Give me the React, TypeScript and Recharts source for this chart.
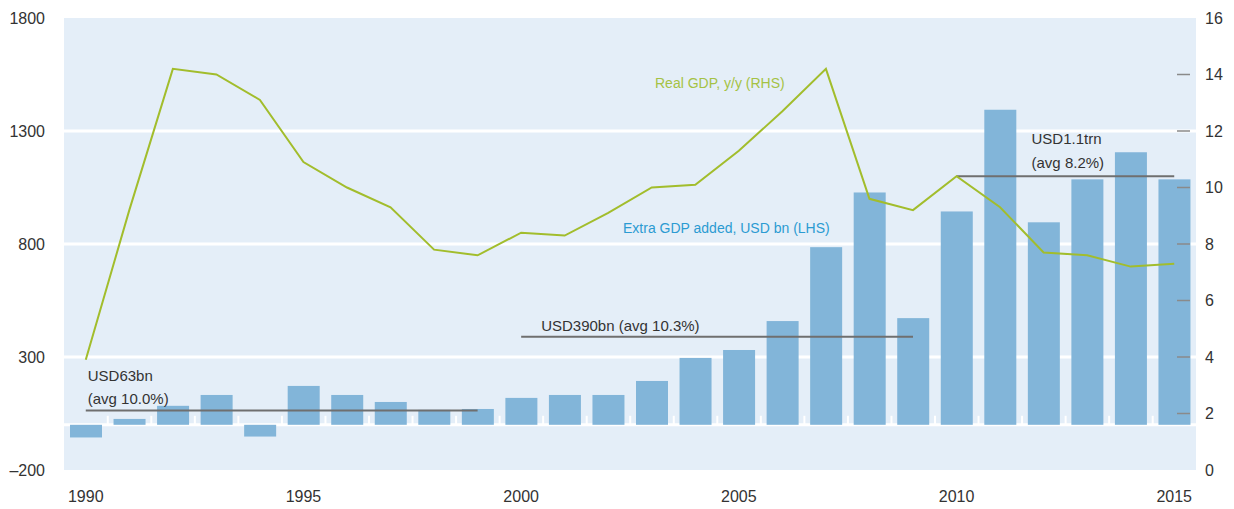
import React from "react";
import {
  Bar,
  CartesianGrid,
  ComposedChart,
  Line,
  ReferenceLine,
  XAxis,
  YAxis,
} from "recharts";

// Years on the category axis
const years = [
  "1990", "1991", "1992", "1993", "1994", "1995", "1996", "1997", "1998", "1999",
  "2000", "2001", "2002", "2003", "2004", "2005", "2006", "2007", "2008", "2009",
  "2010", "2011", "2012", "2013", "2014", "2015",
];

// Extra GDP added, USD bn (LHS)
const extraGdp = [
  -56, 26, 84, 132, -52, 172, 132, 101, 66, 70,
  119, 132, 132, 194, 296, 331, 459, 786, 1028, 472,
  944, 1394, 896, 1086, 1206, 1086,
];

// Real GDP, y/y % (RHS)
const realGdp = [
  3.9, 9.2, 14.2, 14.0, 13.1, 10.9, 10.0, 9.3, 7.8, 7.6,
  8.4, 8.3, 9.1, 10.0, 10.1, 11.3, 12.7, 14.2, 9.6, 9.2,
  10.4, 9.3, 7.7, 7.6, 7.2, 7.3,
];

const leftTicks = [-200, 300, 800, 1300, 1800];
const rightTicks = [0, 2, 4, 6, 8, 10, 12, 14, 16];

// period averages drawn as segments
const periods = [
  { from: "1990", to: "1999", level: 63, lines: ["USD63bn", "(avg 10.0%)"] },
  { from: "2000", to: "2009", level: 390, lines: ["USD390bn (avg 10.3%)"] },
  { from: "2010", to: "2015", level: 1100, lines: ["USD1.1trn", "(avg 8.2%)"] },
];

const data = years.map((year, i) => ({
  year,
  added: extraGdp[i],
  growth: realGdp[i],
}));

const W = 1234;
const H = 509;
const LEFT_W = 64;
const RIGHT_W = 38;
const BAND = (W - LEFT_W - RIGHT_W) / years.length;

const FONT = "'Liberation Sans', Arial, sans-serif";
const BG = "#e4eef8";
const BAR = "#82b5d9";
const GREEN = "#a2bd2c";
const TEXT = "#333333";
const NOTE = "#6f6f6f";

function BarShape(props: any) {
  const { x, y, width, height, index, payload } = props;
  const top = Math.min(y, y + height);
  const bottom = Math.max(y, y + height);
  const base = payload.added >= 0 ? bottom : top;
  const gap = (BAND - width) / 2;
  return (
    <g>
      <rect x={x} y={top} width={width} height={bottom - top} fill={BAR} />
      {index > 0 && (
        <line x1={x - gap} x2={x - gap} y1={base} y2={base - 9} stroke="#fff" strokeWidth={2} />
      )}
    </g>
  );
}

function RightTick({ x, y, payload }: any) {
  const v = payload.value;
  return (
    <g>
      {v > 0 && v < 16 && (
        <line x1={x - 28} x2={x - 15} y1={y} y2={y} stroke="#8a8a8a" strokeWidth={1.5} />
      )}
      <text x={x} y={y} dy="0.35em" textAnchor="start" fill={TEXT} fontSize={16} fontFamily={FONT}>
        {v}
      </text>
    </g>
  );
}

const noteOffsets: Record<string, { dx: number; dy: number[] }> = {
  "1990": { dx: 2, dy: [-30, -7] },
  "2000": { dx: 20, dy: [-6] },
  "2010": { dx: 75, dy: [-32, -8] },
};

function noteLabel(key: string, lines: string[]) {
  return ({ viewBox }: any) => {
    const off = noteOffsets[key];
    return (
      <g>
        {lines.map((t, i) => (
          <text
            key={t}
            x={viewBox.x + off.dx}
            y={viewBox.y + off.dy[i]}
            fill={TEXT}
            fontSize={15}
            fontFamily={FONT}
          >
            {t}
          </text>
        ))}
      </g>
    );
  };
}

export default function App() {
  return (
    <div style={{ position: "absolute", left: 0, top: 0, width: W, height: H, fontFamily: FONT }}>
      <ComposedChart
        width={W}
        height={H}
        data={data}
        margin={{ top: 18, right: 0, bottom: 0, left: 0 }}
      >
        <CartesianGrid
          yAxisId="left"
          vertical={false}
          horizontalValues={[0, 300, 800, 1300]}
          stroke="#ffffff"
          strokeWidth={3}
          fill={BG}
          fillOpacity={1}
        />
        <XAxis
          dataKey="year"
          interval={4}
          axisLine={false}
          tickLine={false}
          tickSize={0}
          tickMargin={21}
          height={39}
          tick={{ fill: TEXT, fontSize: 16, fontFamily: FONT }}
        />
        <YAxis
          yAxisId="left"
          domain={[-200, 1800]}
          ticks={leftTicks}
          allowDataOverflow
          axisLine={false}
          tickLine={false}
          tickSize={0}
          tickMargin={19}
          width={LEFT_W}
          tickFormatter={(v: number) => (v < 0 ? `\u2013${Math.abs(v)}` : `${v}`)}
          tick={{ fill: TEXT, fontSize: 16, fontFamily: FONT }}
        />
        <YAxis
          yAxisId="right"
          orientation="right"
          domain={[0, 16]}
          ticks={rightTicks}
          allowDataOverflow
          axisLine={false}
          tickLine={false}
          tickSize={0}
          tickMargin={9}
          width={RIGHT_W}
          tick={<RightTick />}
        />
        <Bar
          yAxisId="left"
          dataKey="added"
          fill={BAR}
          barSize={32}
          shape={<BarShape />}
          isAnimationActive={false}
        />
        {periods.map((p) => (
          <ReferenceLine
            key={p.from}
            yAxisId="left"
            segment={[
              { x: p.from, y: p.level },
              { x: p.to, y: p.level },
            ]}
            stroke={NOTE}
            strokeWidth={2}
            label={noteLabel(p.from, p.lines)}
          />
        ))}
        <Line
          yAxisId="right"
          dataKey="growth"
          stroke={GREEN}
          strokeWidth={2}
          dot={false}
          activeDot={false}
          isAnimationActive={false}
        />
      </ComposedChart>
      <div
        style={{
          position: "absolute",
          left: 655,
          top: 74,
          fontSize: 14,
          lineHeight: "18px",
          color: "#a5c244",
          whiteSpace: "nowrap",
        }}
      >
        Real GDP, y/y (RHS)
      </div>
      <div
        style={{
          position: "absolute",
          left: 623,
          top: 219,
          fontSize: 14,
          lineHeight: "18px",
          color: "#2b9bd2",
          whiteSpace: "nowrap",
        }}
      >
        Extra GDP added, USD bn (LHS)
      </div>
    </div>
  );
}
